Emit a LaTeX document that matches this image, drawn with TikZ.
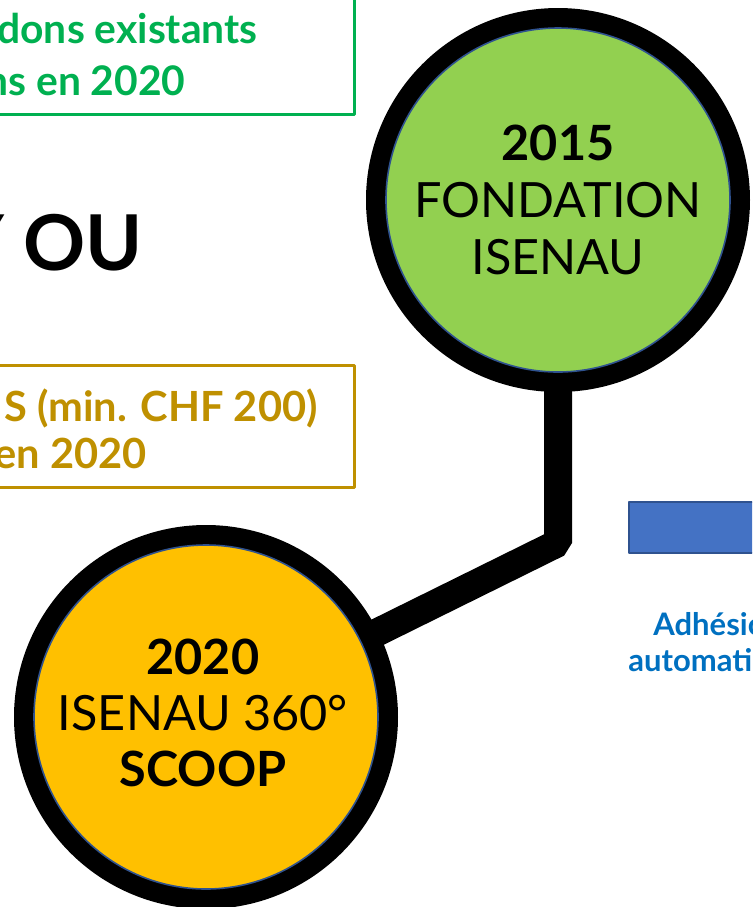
\documentclass[tikz,border=0pt]{standalone}
\usepackage{fontspec}
\setmainfont{Lato}
\definecolor{vert}{HTML}{00B050}
\definecolor{or}{HTML}{BF9000}
\definecolor{vertclair}{HTML}{92D050}
\definecolor{orange}{HTML}{FFC000}
\definecolor{bleu}{HTML}{4472C4}
\definecolor{bleufonce}{HTML}{2F528F}
\definecolor{bleutexte}{HTML}{0070C0}
\begin{document}
\begin{tikzpicture}[x=0.5pt, y=-0.5pt, line join=round,
		ring/.style={line width=10pt, black},
		disque/.style={circle, draw=bleufonce, line width=0.8pt, minimum size=172pt, inner sep=0pt, align=center},
		lien/.style={line width=14pt, black, line join=bevel},
		cadre/.style={line width=1.5pt},
		texte/.style={anchor=base east, inner sep=0pt}]
	\useasboundingbox (0,0) rectangle (752,907);
	\clip (0,0) rectangle (752,907);
	% Cadres
	\draw[cadre, vert] (-20,-20) rectangle (354,114);
	\node[texte, text=vert, font=\bfseries\fontsize{20.4}{25}\selectfont] (dons) at (258,43) {dons existants};
	\node[texte, text=vert, font=\bfseries\fontsize{20.4}{25}\selectfont] (dons2) at (186,95) {ns en 2020};
	\node[texte, font=\bfseries\fontsize{38.5}{46}\selectfont] (titre) at (143,270) {Y OU};
	\draw[cadre, or] (-20,365) rectangle (354,487);
	\node[texte, text=or, font=\bfseries\fontsize{20.8}{25}\selectfont] (min) at (318,421) {S (min. CHF 200)};
	\node[texte, text=or, font=\bfseries\fontsize{20.8}{25}\selectfont] (min2) at (147,468) {en 2020};
	% Ligne du temps
	\coordinate (A) at (558,200);
	\coordinate (B) at (206,717);
	\coordinate (K) at (558,543);
	\draw[lien] (A) -- (K) -- (B);
	\draw[ring] (A) circle (91pt);
	\draw[ring] (B) circle (91pt);
	\node[disque, fill=vertclair, font=\fontsize{24.3}{28.5}\selectfont] (c2015) at (A) {\textbf{2015}\\FONDATION\\ISENAU};
	\node[disque, fill=orange] (c2020) at (B) {};
	\node[align=center, inner sep=0pt, font=\fontsize{24.3}{28}\selectfont] (t2020) at (203,713) {\textbf{2020}\\ISENAU 360°\\\textbf{SCOOP}};
	% Adhesion
	\draw[draw=bleufonce, fill=bleu, line width=0.8pt] (629,502) rectangle (780,553);
	\node[anchor=base west, inner sep=0pt, text=bleutexte, font=\bfseries\fontsize{15.5}{18}\selectfont] (adh) at (653,635) {Adhésio};
	\node[anchor=base west, inner sep=0pt, text=bleutexte, font=\bfseries\fontsize{15.5}{18}\selectfont] (auto) at (628,671) {automati};
\end{tikzpicture}
\end{document}
